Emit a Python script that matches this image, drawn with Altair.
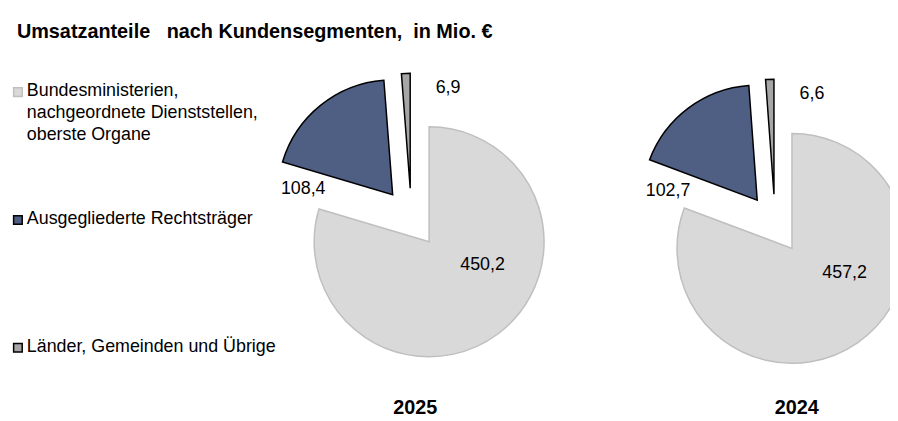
import altair as alt
import pandas as pd

# ---------------- data ----------------
years = ["2025", "2024"]
segments = [
    "Bundesministerien, nachgeordnete Dienststellen, oberste Organe",
    "Ausgegliederte Rechtsträger",
    "Länder, Gemeinden und Übrige",
]
legend_labels = [
    "Bundesministerien,\nnachgeordnete Dienststellen,\noberste Organe",
    "Ausgegliederte Rechtsträger",
    "Länder, Gemeinden und Übrige",
]
values_2025 = [450.2, 108.4, 6.9]
values_2024 = [457.2, 102.7, 6.6]
title_text = "Umsatzanteile\u00a0\u00a0 nach Kundensegmenten,\u00a0 in Mio. €"

rows = []
for yr, vals in zip(years, [values_2025, values_2024]):
    for i, (seg, v) in enumerate(zip(segments, vals)):
        rows.append({"year": yr, "segment": seg, "order": i, "value": v})
df = pd.DataFrame(rows)
legend_df = pd.DataFrame({"segment": segments, "label": legend_labels})
year_df = pd.DataFrame({"year": years})
title_df = pd.DataFrame({"t": [title_text]})

# ---------------- styling / layout ----------------
FONT = "Liberation Sans"
fills = ["#d9d9d9", "#4f5f84", "#a6a6a6"]
strokes = ["#bfbfbf", "#000000", "#000000"]
W, H = 890, 413
R = 116
EXPLODE = 30

fill_scale = alt.Scale(domain=segments, range=fills)
stroke_scale = alt.Scale(domain=segments, range=strokes)

base = (
    alt.Chart(df)
    .transform_joinaggregate(total="sum(value)", groupby=["year"])
    .transform_window(
        cum="sum(value)", groupby=["year"], sort=[alt.SortField("order")], frame=[None, 0]
    )
    .transform_calculate(
        a0="2*PI*(datum.cum-datum.value)/datum.total",
        a1="2*PI*datum.cum/datum.total",
    )
    .transform_calculate(
        mid="(datum.a0+datum.a1)/2",
        cx="datum.year == '2025' ? 407 : 774",
        cy="datum.year == '2025' ? 210 : 216",
    )
    .transform_calculate(
        px=f"datum.cx + {EXPLODE}*sin(datum.mid)",
        py=f"datum.cy - {EXPLODE}*cos(datum.mid)",
        la="datum.mid + [-20, -36, 18][datum.order]*PI/180",
        lr="[86, 113, 136][datum.order]",
        lab="replace(format(datum.value, '.1f'), '.', ',')",
    )
    .transform_calculate(
        lx="datum.cx + datum.lr*sin(datum.la)",
        ly="datum.cy - datum.lr*cos(datum.la)",
    )
)

pie = base.mark_arc(radius=R, strokeWidth=1.5, strokeJoin="miter").encode(
    theta=alt.Theta("a0:Q", scale=None, stack=None),
    theta2="a1:Q",
    x=alt.X("px:Q", scale=None, axis=None),
    y=alt.Y("py:Q", scale=None, axis=None),
    fill=alt.Fill("segment:N", scale=fill_scale, legend=None),
    stroke=alt.Stroke("segment:N", scale=stroke_scale, legend=None),
)

labels = base.mark_text(fontSize=18, font=FONT, color="#000000").encode(
    x=alt.X("lx:Q", scale=None, axis=None),
    y=alt.Y("ly:Q", scale=None, axis=None),
    text="lab:N",
)

leg_y = alt.Y(
    "segment:N",
    scale=alt.Scale(type="point", domain=segments, range=[83, 341], padding=0),
    axis=None,
)
leg_sq = alt.Chart(legend_df).mark_square(size=75, strokeWidth=1.5, opacity=1).encode(
    x=alt.value(10),
    y=leg_y,
    fill=alt.Fill("segment:N", scale=fill_scale, legend=None),
    stroke=alt.Stroke("segment:N", scale=stroke_scale, legend=None),
)
leg_txt = alt.Chart(legend_df).mark_text(
    align="left", baseline="top", dy=-10, lineBreak="\n", fontSize=18,
    lineHeight=22, font=FONT, color="#000000",
).encode(x=alt.value(19), y=leg_y, text="label:N")

year_txt = alt.Chart(year_df).mark_text(
    fontSize=20, fontWeight="bold", font=FONT, color="#000000"
).encode(
    x=alt.X("year:N", scale=alt.Scale(type="point", domain=years, range=[411, 796], padding=0), axis=None),
    y=alt.value(402),
    text="year:N",
)

title = alt.Chart(title_df).mark_text(
    align="left", baseline="alphabetic", fontSize=20, fontWeight="bold", font=FONT, color="#000000"
).encode(x=alt.value(9), y=alt.value(28), text="t:N")

chart = (
    alt.layer(pie, labels, leg_sq, leg_txt, year_txt, title)
    .resolve_scale(x="independent", y="independent")
    .properties(width=W, height=H, padding=0, autosize="none", background="white")
    .configure_view(stroke=None)
)

chart.save("out.html", embed_options={"renderer": "svg", "actions": False})
